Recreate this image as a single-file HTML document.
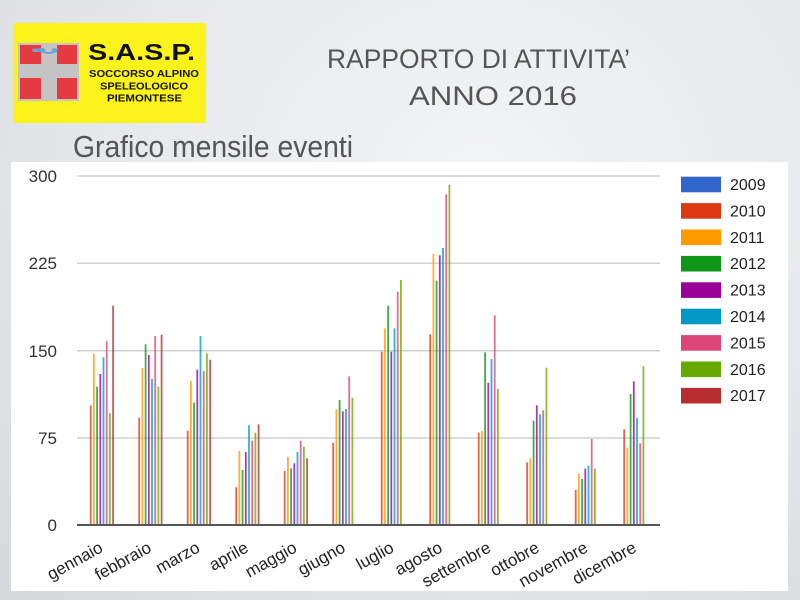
<!DOCTYPE html>
<html>
<head>
<meta charset="utf-8">
<style>
html,body{margin:0;padding:0;}
body{width:800px;height:600px;overflow:hidden;background:radial-gradient(ellipse at 60% 30%,#f3f4f6 0%,#e6e8eb 55%,#d6d8dc 100%);}
svg{display:block;}
.t{font-family:"Liberation Sans",sans-serif;}
.c0{fill:#3366cc}.c1{fill:#dc3912}.c2{fill:#ff9900}.c3{fill:#109618}.c4{fill:#990099}
.c5{fill:#0099c6}.c6{fill:#dd4477}.c7{fill:#66aa00}.c8{fill:#b82e2e}
.bars rect{opacity:.78}
</style>
</head>
<body>
<svg width="800" height="600" viewBox="0 0 800 600" xmlns="http://www.w3.org/2000/svg">
<!-- logo -->
<rect x="13" y="23" width="193" height="100" fill="#fdf31c"/>
<rect x="18" y="43" width="61" height="58" fill="#c4c4c4"/>
<rect x="20" y="45" width="21" height="19" fill="#e33b3f"/>
<rect x="57" y="45" width="20" height="19" fill="#e33b3f"/>
<rect x="20" y="78" width="21" height="21" fill="#e33b3f"/>
<rect x="57" y="78" width="20" height="21" fill="#e33b3f"/>
<path d="M32 49 L44 48 L46 52 L51 52 L53 48 L58 49 L57 52 L50 54 L47 54 L40 52 L33 52 Z" fill="#6aa3d8"/>
<text class="t" x="88" y="60" font-size="23" font-weight="bold" textLength="107" lengthAdjust="spacingAndGlyphs" fill="#111">S.A.S.P.</text>
<text class="t" x="89" y="77" font-size="10" font-weight="bold" textLength="110" lengthAdjust="spacingAndGlyphs" fill="#111">SOCCORSO ALPINO</text>
<text class="t" x="100" y="89.5" font-size="10" font-weight="bold" textLength="88" lengthAdjust="spacingAndGlyphs" fill="#111">SPELEOLOGICO</text>
<text class="t" x="107" y="101.5" font-size="10" font-weight="bold" textLength="75" lengthAdjust="spacingAndGlyphs" fill="#111">PIEMONTESE</text>

<!-- titles -->
<text class="t" x="327" y="68" font-size="27" textLength="303" lengthAdjust="spacingAndGlyphs" fill="#555">RAPPORTO DI ATTIVITA’</text>
<text class="t" x="409" y="105" font-size="27" textLength="168" lengthAdjust="spacingAndGlyphs" fill="#555">ANNO 2016</text>
<text class="t" x="73" y="157" font-size="31" textLength="280" lengthAdjust="spacingAndGlyphs" fill="#555">Grafico mensile eventi</text>

<!-- panel -->
<rect x="11" y="162" width="777" height="429" fill="#ffffff"/>

<!-- grid -->
<g stroke="#d0d0d0" stroke-width="1.5">
<line x1="77" y1="176" x2="660" y2="176"/>
<line x1="77" y1="263.3" x2="660" y2="263.3"/>
<line x1="77" y1="350.7" x2="660" y2="350.7"/>
<line x1="77" y1="438" x2="660" y2="438"/>
</g>

<!-- y labels -->
<g class="t" font-size="17" fill="#333" text-anchor="end">
<text x="57" y="182">300</text>
<text x="57" y="269">225</text>
<text x="57" y="357">150</text>
<text x="57" y="444">75</text>
<text x="57" y="531">0</text>
</g>

<!-- bars -->
<g class="bars">
<g transform="translate(90.7,0)">
<rect class="c1" x="-0.9" y="405.3" width="1.8" height="119.7"/>
<rect class="c2" x="2.3" y="354" width="1.8" height="171"/>
<rect class="c3" x="5.5" y="386.7" width="1.8" height="138.3"/>
<rect class="c4" x="8.7" y="374" width="1.8" height="151"/>
<rect class="c5" x="11.9" y="357.3" width="1.8" height="167.7"/>
<rect class="c6" x="15.1" y="341.3" width="1.8" height="183.7"/>
<rect class="c7" x="18.3" y="413.3" width="1.8" height="111.7"/>
<rect class="c8" x="21.5" y="305.7" width="1.8" height="219.3"/>
</g>
<g transform="translate(139.2,0)">
<rect class="c1" x="-0.9" y="417.7" width="1.8" height="107.3"/>
<rect class="c2" x="2.3" y="368" width="1.8" height="157"/>
<rect class="c3" x="5.5" y="344.3" width="1.8" height="180.7"/>
<rect class="c4" x="8.7" y="355" width="1.8" height="170"/>
<rect class="c5" x="11.9" y="378.7" width="1.8" height="146.3"/>
<rect class="c6" x="15.1" y="336" width="1.8" height="189"/>
<rect class="c7" x="18.3" y="386.7" width="1.8" height="138.3"/>
<rect class="c8" x="21.5" y="334.7" width="1.8" height="190.3"/>
</g>
<g transform="translate(187.7,0)">
<rect class="c1" x="-0.9" y="430.7" width="1.8" height="94.3"/>
<rect class="c2" x="2.3" y="381" width="1.8" height="144"/>
<rect class="c3" x="5.5" y="402.7" width="1.8" height="122.3"/>
<rect class="c4" x="8.7" y="369.7" width="1.8" height="155.3"/>
<rect class="c5" x="11.9" y="336" width="1.8" height="189"/>
<rect class="c6" x="15.1" y="371" width="1.8" height="154"/>
<rect class="c7" x="18.3" y="353.3" width="1.8" height="171.7"/>
<rect class="c8" x="21.5" y="359.7" width="1.8" height="165.3"/>
</g>
<g transform="translate(236.2,0)">
<rect class="c1" x="-0.9" y="487.3" width="1.8" height="37.7"/>
<rect class="c2" x="2.3" y="451" width="1.8" height="74"/>
<rect class="c3" x="5.5" y="470" width="1.8" height="55"/>
<rect class="c4" x="8.7" y="452" width="1.8" height="73"/>
<rect class="c5" x="11.9" y="425.3" width="1.8" height="99.7"/>
<rect class="c6" x="15.1" y="440.7" width="1.8" height="84.3"/>
<rect class="c7" x="18.3" y="432.7" width="1.8" height="92.3"/>
<rect class="c8" x="21.5" y="424.3" width="1.8" height="100.7"/>
</g>
<g transform="translate(284.7,0)">
<rect class="c1" x="-0.9" y="471" width="1.8" height="54"/>
<rect class="c2" x="2.3" y="456.7" width="1.8" height="68.3"/>
<rect class="c3" x="5.5" y="468.3" width="1.8" height="56.7"/>
<rect class="c4" x="8.7" y="463.3" width="1.8" height="61.7"/>
<rect class="c5" x="11.9" y="452" width="1.8" height="73"/>
<rect class="c6" x="15.1" y="440.7" width="1.8" height="84.3"/>
<rect class="c7" x="18.3" y="446.7" width="1.8" height="78.3"/>
<rect class="c8" x="21.5" y="458.3" width="1.8" height="66.7"/>
</g>
<g transform="translate(333.2,0)">
<rect class="c1" x="-0.9" y="442.7" width="1.8" height="82.3"/>
<rect class="c2" x="2.3" y="409.3" width="1.8" height="115.7"/>
<rect class="c3" x="5.5" y="400" width="1.8" height="125"/>
<rect class="c4" x="8.7" y="411.3" width="1.8" height="113.7"/>
<rect class="c5" x="11.9" y="409" width="1.8" height="116"/>
<rect class="c6" x="15.1" y="376.3" width="1.8" height="148.7"/>
<rect class="c7" x="18.3" y="397.7" width="1.8" height="127.3"/>
</g>
<g transform="translate(381.7,0)">
<rect class="c1" x="-0.9" y="351.7" width="1.8" height="173.3"/>
<rect class="c2" x="2.3" y="328.3" width="1.8" height="196.7"/>
<rect class="c3" x="5.5" y="305.7" width="1.8" height="219.3"/>
<rect class="c4" x="8.7" y="351.7" width="1.8" height="173.3"/>
<rect class="c5" x="11.9" y="328.3" width="1.8" height="196.7"/>
<rect class="c6" x="15.1" y="291.7" width="1.8" height="233.3"/>
<rect class="c7" x="18.3" y="280" width="1.8" height="245"/>
</g>
<g transform="translate(430.2,0)">
<rect class="c1" x="-0.9" y="334.3" width="1.8" height="190.7"/>
<rect class="c2" x="2.3" y="254" width="1.8" height="271"/>
<rect class="c3" x="5.5" y="280.7" width="1.8" height="244.3"/>
<rect class="c4" x="8.7" y="255.3" width="1.8" height="269.7"/>
<rect class="c5" x="11.9" y="248" width="1.8" height="277"/>
<rect class="c6" x="15.1" y="194.3" width="1.8" height="330.7"/>
<rect class="c7" x="18.3" y="184.7" width="1.8" height="340.3"/>
</g>
<g transform="translate(478.7,0)">
<rect class="c1" x="-0.9" y="432.7" width="1.8" height="92.3"/>
<rect class="c2" x="2.3" y="431" width="1.8" height="94"/>
<rect class="c3" x="5.5" y="352.3" width="1.8" height="172.7"/>
<rect class="c4" x="8.7" y="382.7" width="1.8" height="142.3"/>
<rect class="c5" x="11.9" y="359" width="1.8" height="166"/>
<rect class="c6" x="15.1" y="315.3" width="1.8" height="209.7"/>
<rect class="c7" x="18.3" y="388.7" width="1.8" height="136.3"/>
</g>
<g transform="translate(527.2,0)">
<rect class="c1" x="-0.9" y="462.3" width="1.8" height="62.7"/>
<rect class="c2" x="2.3" y="458.3" width="1.8" height="66.7"/>
<rect class="c3" x="5.5" y="420.7" width="1.8" height="104.3"/>
<rect class="c4" x="8.7" y="405.3" width="1.8" height="119.7"/>
<rect class="c5" x="11.9" y="414.3" width="1.8" height="110.7"/>
<rect class="c6" x="15.1" y="410.3" width="1.8" height="114.7"/>
<rect class="c7" x="18.3" y="367.7" width="1.8" height="157.3"/>
</g>
<g transform="translate(575.7,0)">
<rect class="c1" x="-0.9" y="490" width="1.8" height="35"/>
<rect class="c2" x="2.3" y="473.7" width="1.8" height="51.3"/>
<rect class="c3" x="5.5" y="479" width="1.8" height="46"/>
<rect class="c4" x="8.7" y="468.7" width="1.8" height="56.3"/>
<rect class="c5" x="11.9" y="465.7" width="1.8" height="59.3"/>
<rect class="c6" x="15.1" y="439" width="1.8" height="86"/>
<rect class="c7" x="18.3" y="468.7" width="1.8" height="56.3"/>
</g>
<g transform="translate(624.2,0)">
<rect class="c1" x="-0.9" y="429.3" width="1.8" height="95.7"/>
<rect class="c2" x="2.3" y="447.7" width="1.8" height="77.3"/>
<rect class="c3" x="5.5" y="394" width="1.8" height="131"/>
<rect class="c4" x="8.7" y="381.3" width="1.8" height="143.7"/>
<rect class="c5" x="11.9" y="417.7" width="1.8" height="107.3"/>
<rect class="c6" x="15.1" y="443.3" width="1.8" height="81.7"/>
<rect class="c7" x="18.3" y="366.3" width="1.8" height="158.7"/>
</g>
</g>

<!-- baseline -->
<line x1="77" y1="525" x2="660" y2="525" stroke="#555" stroke-width="2"/>

<!-- x labels -->
<g class="t" font-size="17" fill="#222" text-anchor="end">
<text transform="translate(104,551) rotate(-29)">gennaio</text>
<text transform="translate(152.5,551) rotate(-29)">febbraio</text>
<text transform="translate(201,551) rotate(-29)">marzo</text>
<text transform="translate(249.5,551) rotate(-29)">aprile</text>
<text transform="translate(298,551) rotate(-29)">maggio</text>
<text transform="translate(346.5,551) rotate(-29)">giugno</text>
<text transform="translate(395,551) rotate(-29)">luglio</text>
<text transform="translate(443.5,551) rotate(-29)">agosto</text>
<text transform="translate(492,551) rotate(-29)">settembre</text>
<text transform="translate(540.5,551) rotate(-29)">ottobre</text>
<text transform="translate(589,551) rotate(-29)">novembre</text>
<text transform="translate(637.5,551) rotate(-29)">dicembre</text>
</g>

<!-- legend -->
<g>
<rect class="c0" x="681" y="176.7" width="40" height="15.6"/>
<rect class="c1" x="681" y="203.1" width="40" height="15.6"/>
<rect class="c2" x="681" y="229.5" width="40" height="15.6"/>
<rect class="c3" x="681" y="255.9" width="40" height="15.6"/>
<rect class="c4" x="681" y="282.3" width="40" height="15.6"/>
<rect class="c5" x="681" y="308.7" width="40" height="15.6"/>
<rect class="c6" x="681" y="335.1" width="40" height="15.6"/>
<rect class="c7" x="681" y="361.5" width="40" height="15.6"/>
<rect class="c8" x="681" y="387.9" width="40" height="15.6"/>
</g>
<g class="t" font-size="16" fill="#222">
<text x="730" y="190">2009</text>
<text x="730" y="216.4">2010</text>
<text x="730" y="242.8">2011</text>
<text x="730" y="269.2">2012</text>
<text x="730" y="295.6">2013</text>
<text x="730" y="322">2014</text>
<text x="730" y="348.4">2015</text>
<text x="730" y="374.8">2016</text>
<text x="730" y="401.2">2017</text>
</g>
</svg>
</body>
</html>
